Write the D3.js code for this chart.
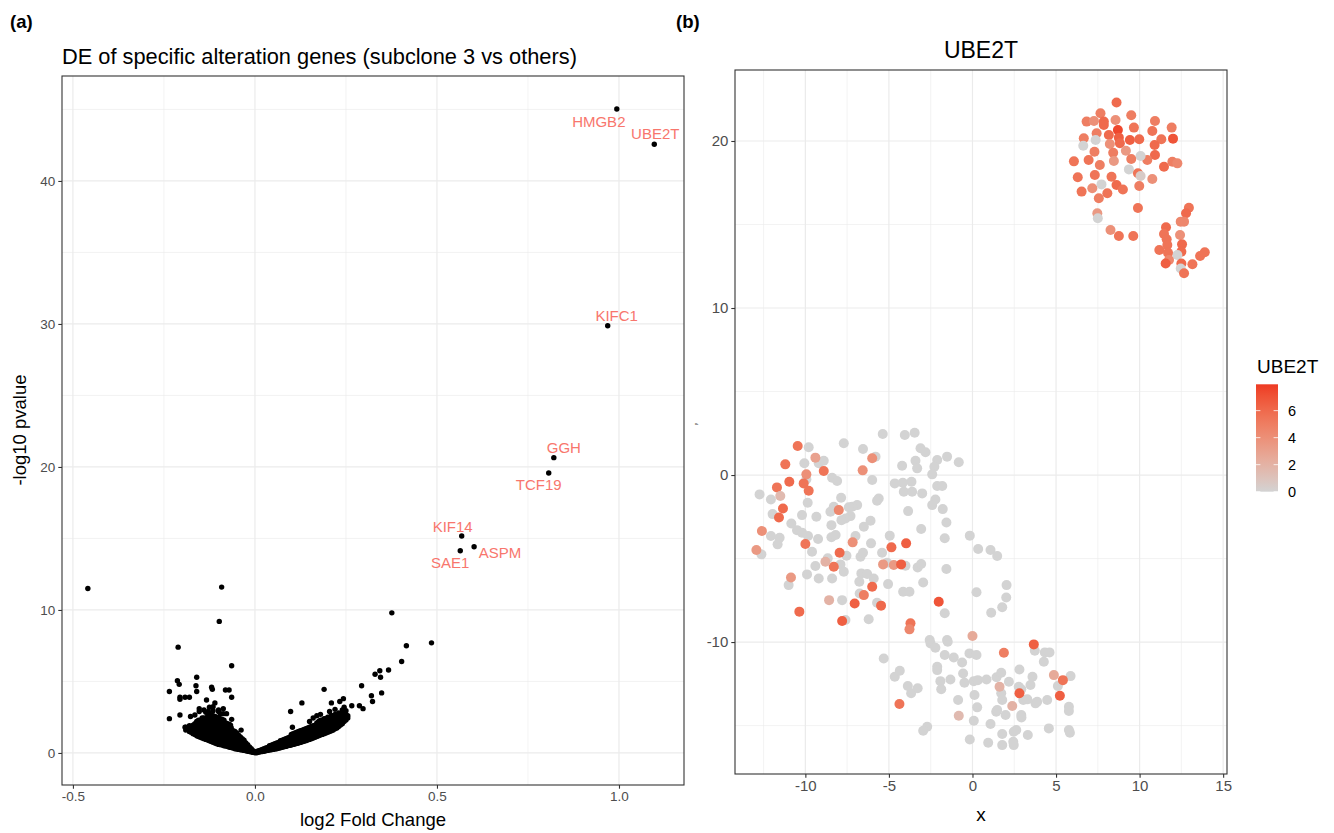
<!DOCTYPE html>
<html><head><meta charset="utf-8">
<script src="https://cdn.jsdelivr.net/npm/d3@7"></script>
<style>
body{margin:0;background:#fff}
text{font-family:"Liberation Sans",Arial,Helvetica,sans-serif}
</style></head>
<body>
<svg id="chart" width="1334" height="833"></svg>
<script>
// ---------------- DATA ----------------
// Panel (a): volcano plot
const labelGenes = ["HMGB2","UBE2T","KIFC1","GGH","TCF19","KIF14","SAE1","ASPM"];
const labelLFC   = [0.994, 1.097, 0.969, 0.821, 0.807, 0.568, 0.564, 0.602];
const labelP     = [45.03, 42.57, 29.88, 20.65, 19.58, 15.17, 14.14, 14.42];

const sparseGenes = [
 [-0.459,11.5],[-0.0915,11.6],[-0.098,9.2],[-0.211,7.4],[-0.064,6.1],
 [0.376,9.8],[0.485,7.7],[0.416,7.5],[0.403,6.4],[0.367,5.8],[0.343,5.75],[0.33,5.5],[0.345,5.3],
 [0.293,4.7],[0.32,4.0],[0.323,3.6],[0.348,4.2],[0.19,4.45],[0.129,3.5],[0.098,2.9],[0.103,1.8],
 [0.243,3.8],[0.233,3.6],[0.21,3.5],[0.266,3.3],[0.287,3.3],[0.297,3.1],
 [-0.235,4.3],[-0.235,2.4],[-0.213,5.05],[-0.208,4.8],[-0.16,5.3],[-0.162,4.7],[-0.16,4.3],
 [-0.119,4.6],[-0.117,4.45],[-0.081,4.4],[-0.071,4.4],[-0.064,3.9],[-0.206,3.9],[-0.192,3.9],
 [-0.18,3.9],[-0.206,3.75],[-0.206,2.65],[-0.192,1.8],[-0.179,1.5],[-0.177,2.55],[-0.153,3.1],
 [-0.133,3.7],[-0.11,3.5],[-0.087,3.1],[-0.078,2.75],[-0.064,2.35],[-0.067,1.95],[-0.038,1.6],
 [0.15,2.2],[0.16,2.45],[0.17,2.6],[0.205,2.9],[0.22,3.05],[0.245,3.2],[0.25,2.95],[0.18,2.7],
 [-0.14,3.0],[-0.125,3.2],[-0.115,2.95],[-0.1,3.0],[-0.135,2.85],[-0.095,2.75],
 [-0.165,2.66],[-0.153,2.9],[-0.128,2.9],[-0.115,3.24],[-0.1,2.9],[-0.087,2.75]
];

// dense V-shaped bulk of genes: [log2FC, [-log10 p values]]
const bulkGenes = [
 [-0.19,[1.6,1.8]],[-0.18,[1.5,1.7,1.9]],[-0.175,[1.45,1.65,1.85]],[-0.17,[1.35,1.55,1.75,1.95]],
 [-0.165,[1.3,1.5,1.7,1.9,2.05]],[-0.16,[1.2,1.4,1.6,1.8,2.0,2.2]],[-0.155,[1.15,1.35,1.55,1.75,1.95,2.15,2.3]],
 [-0.15,[1.1,1.3,1.5,1.7,1.9,2.1,2.3]],[-0.145,[1.05,1.25,1.45,1.65,1.85,2.05,2.25,2.45]],
 [-0.14,[1.0,1.2,1.4,1.6,1.8,2.0,2.2,2.45]],[-0.135,[0.95,1.15,1.35,1.55,1.75,1.95,2.15,2.4]],
 [-0.13,[0.9,1.1,1.3,1.5,1.7,1.9,2.1,2.3,2.55]],[-0.125,[0.85,1.05,1.25,1.45,1.65,1.85,2.05,2.25,2.5,2.7]],
 [-0.12,[0.8,1.0,1.2,1.4,1.6,1.8,2.0,2.2,2.4,2.65]],[-0.115,[0.75,0.95,1.15,1.35,1.55,1.75,1.95,2.15,2.35,2.6]],
 [-0.11,[0.7,0.9,1.1,1.3,1.5,1.7,1.9,2.1,2.3,2.55]],[-0.105,[0.65,0.85,1.05,1.25,1.45,1.65,1.85,2.05,2.25,2.5]],
 [-0.10,[0.6,0.8,1.0,1.2,1.4,1.6,1.8,2.0,2.2,2.45]],[-0.095,[0.58,0.78,0.98,1.18,1.38,1.58,1.78,1.98,2.2,2.4]],
 [-0.09,[0.55,0.75,0.95,1.15,1.35,1.55,1.75,1.95,2.15,2.35]],[-0.085,[0.5,0.7,0.9,1.1,1.3,1.5,1.7,1.9,2.1,2.3]],
 [-0.08,[0.48,0.68,0.88,1.08,1.28,1.48,1.68,1.88,2.1]],[-0.075,[0.45,0.65,0.85,1.05,1.25,1.45,1.65,1.85,2.05]],
 [-0.07,[0.4,0.6,0.8,1.0,1.2,1.4,1.6,1.8,2.0]],[-0.065,[0.38,0.58,0.78,0.98,1.18,1.38,1.58,1.75]],
 [-0.06,[0.35,0.55,0.75,0.95,1.15,1.35,1.55]],[-0.055,[0.3,0.5,0.7,0.9,1.1,1.3,1.5]],
 [-0.05,[0.28,0.48,0.68,0.88,1.08,1.28,1.4]],[-0.045,[0.25,0.45,0.65,0.85,1.05,1.25]],
 [-0.04,[0.22,0.42,0.62,0.82,1.02,1.12]],[-0.035,[0.2,0.4,0.6,0.8,1.0]],[-0.03,[0.18,0.38,0.58,0.78,0.9]],
 [-0.025,[0.15,0.35,0.55,0.7]],[-0.02,[0.12,0.3,0.48,0.58]],[-0.015,[0.1,0.25,0.42]],
 [-0.01,[0.07,0.2,0.3]],[-0.005,[0.04,0.15]],[0.0,[0.02,0.08]],
 [0.005,[0.02,0.1]],[0.01,[0.05,0.15]],[0.015,[0.08,0.2]],[0.02,[0.1,0.25]],[0.025,[0.12,0.3]],
 [0.03,[0.15,0.35]],[0.035,[0.18,0.38]],[0.04,[0.2,0.4,0.5]],[0.045,[0.22,0.42,0.55]],[0.05,[0.25,0.45,0.6]],
 [0.055,[0.28,0.48,0.65]],[0.06,[0.3,0.5,0.7]],[0.065,[0.33,0.53,0.73]],[0.07,[0.36,0.56,0.76,0.85]],
 [0.075,[0.4,0.6,0.8,0.9]],[0.08,[0.43,0.63,0.83,0.95]],[0.085,[0.46,0.66,0.86,1.0]],[0.09,[0.5,0.7,0.9,1.05]],
 [0.095,[0.53,0.73,0.95,1.1]],[0.10,[0.56,0.76,0.96,1.15,1.3]],[0.105,[0.6,0.8,1.0,1.2,1.35]],
 [0.11,[0.63,0.83,1.03,1.23,1.4]],[0.115,[0.67,0.87,1.07,1.27,1.45]],[0.12,[0.7,0.9,1.1,1.3,1.5]],
 [0.125,[0.74,0.94,1.14,1.34,1.55]],[0.13,[0.78,0.98,1.18,1.38,1.6]],[0.135,[0.82,1.02,1.22,1.42,1.65]],
 [0.14,[0.86,1.06,1.26,1.46,1.7]],[0.145,[0.9,1.1,1.3,1.5,1.75]],[0.15,[0.95,1.15,1.35,1.55,1.8]],
 [0.155,[1.0,1.2,1.4,1.6,1.85]],[0.16,[1.05,1.25,1.45,1.65,1.9]],[0.165,[1.1,1.3,1.5,1.7,1.95]],
 [0.17,[1.15,1.35,1.55,1.75,1.95,2.1]],[0.175,[1.2,1.4,1.6,1.8,2.0,2.2]],[0.18,[1.25,1.45,1.65,1.85,2.05,2.3]],
 [0.185,[1.3,1.5,1.7,1.9,2.1,2.3]],[0.19,[1.35,1.55,1.75,1.95,2.15,2.4]],[0.195,[1.4,1.6,1.8,2.0,2.2,2.4]],
 [0.20,[1.45,1.65,1.85,2.05,2.25,2.5]],[0.205,[1.5,1.7,1.9,2.1,2.3,2.5]],[0.21,[1.55,1.75,1.95,2.15,2.35,2.6]],
 [0.215,[1.6,1.8,2.0,2.2,2.4,2.6]],[0.22,[1.7,1.9,2.1,2.3,2.5,2.7]],[0.225,[1.75,1.95,2.15,2.35,2.55]],
 [0.23,[1.85,2.05,2.25,2.45,2.65,2.8]],[0.235,[1.95,2.15,2.35,2.55,2.7]],[0.24,[2.05,2.25,2.45,2.65,2.85,3.0]],
 [0.245,[2.2,2.4,2.6,2.8]],[0.25,[2.3,2.5,2.7]],[0.255,[2.45,2.6]]
];

const volcanoXTicks = [-0.5, 0.0, 0.5, 1.0];
const volcanoYTicks = [0, 10, 20, 30, 40];

// Panel (b): embedding coloured by UBE2T: [x, y, expression]
const cellsTop = [
 [8.62,22.3,6],[7.66,21.66,5],[6.83,21.16,5],[7.27,21.2,4],[7.86,21.16,6],[7.86,20.96,6],[8.56,21.26,4],
 [9.5,21.54,5],[10.92,21.2,5],[9.66,20.8,5.5],[11.92,20.8,5],[10.76,20.6,5.5],[8.7,20.66,7.5],[8.16,20.36,6],
 [7.43,20.46,5],[6.66,20.16,5],[7.37,20.06,0],[6.63,19.72,0],[8.76,20.2,6.5],[8.82,19.86,6],[8.22,19.82,4],
 [9.42,20.06,6.5],[9.98,20.1,6],[11.3,20.1,5.5],[12.0,20.14,7],[10.9,19.76,6],[10.92,19.16,6],[10.46,18.86,5],
 [10.06,19.1,0],[9.18,19.42,3.5],[9.5,18.92,5],[8.42,19.3,5],[7.3,19.36,5],[8.46,18.8,3.5],[7.62,18.56,5],
 [6.95,18.86,5.5],[6.07,18.78,5.5],[7.32,17.96,5.5],[6.3,17.83,5.5],[8.32,17.86,5.5],[9.36,18.3,0],
 [9.9,18.07,5.5],[10.06,17.9,0.5],[10.76,17.72,4],[11.46,18.46,6],[11.96,18.76,5],[12.26,18.66,4.5],
 [7.72,17.4,0],[7.17,17.17,4],[6.53,16.97,5.5],[8.62,17.37,6],[9.0,17.1,5.5],[9.98,17.3,5],[8.07,16.87,5.5],
 [7.56,16.57,5],[9.9,15.99,5.5],[7.47,15.67,3.5],[7.5,15.37,0],[8.26,14.67,4],[8.76,14.31,5.5],[9.62,14.31,5.5],
 [12.95,16.0,5.5],[12.78,15.67,6],[12.66,15.17,4.5],[12.46,15.17,4.5],[11.58,14.83,6],[11.46,14.43,5.5],
 [11.62,14.11,5.5],[12.42,14.37,4],[12.54,13.81,6],[12.5,13.37,6],[12.26,13.17,0],[11.66,13.77,5.5],
 [11.18,13.47,5.5],[11.7,13.31,5.5],[11.76,12.87,4.5],[11.56,12.67,6.5],[12.5,12.67,6],[12.46,12.37,0],
 [12.66,12.08,5.5],[13.16,12.62,5.5],[13.62,13.11,5.5],[13.9,13.34,5.5]
];
const cellsLowGrey = [
 [-9.8,1.66],[-7.7,1.9],[-5.37,2.46],[-4.05,2.4],[-3.46,2.53],[-6.55,1.56],[-5.8,1.1],[-10.06,0.7],[-9.2,0.7],
 [-8.9,0.86],[-3.11,1.6],[-2.81,1.36],[-1.52,1.1],[-0.82,0.76],[-2.11,0.9],[-3.41,0.86],[-4.21,0.56],[-3.31,0.4],
 [-2.28,0.5],[-2.41,0.04],[-8.4,-0.16],[-8.1,-0.36],[-9.94,-0.26],[-6.0,-0.3],[-4.65,-0.5],[-4.17,-0.46],
 [-3.65,-0.4],[-4.11,-1.0],[-3.61,-1.0],[-3.01,-1.1],[-2.11,-0.66],[-1.81,-0.66],[-12.74,-1.16],[-12.06,-1.46],
 [-9.86,-1.66],[-7.86,-1.36],[-5.61,-1.4],[-5.71,-1.54],[-6.9,-1.8],[-7.2,-1.9],[-7.4,-1.93],[-8.3,-1.9],
 [-8.5,-2.2],[-11.96,-2.34],[-10.2,-2.4],[-9.34,-2.5],[-7.3,-2.46],[-7.6,-2.6],[-7.84,-2.7],[-3.85,-2.16],
 [-2.22,-1.46],[-2.41,-1.8],[-1.78,-2.04],[-1.56,-2.84],[-8.44,-3.0],[-6.1,-2.74],[-6.5,-3.1],[-3.07,-3.23],
 [-10.84,-2.9],[-10.5,-3.3],[-10.2,-3.45],[-12.06,-3.65],[-11.54,-3.75],[-11.66,-4.15],[-9.84,-3.65],
 [-9.24,-3.83],[-8.44,-3.73],[-8.19,-3.59],[-7.0,-3.65],[-6.07,-4.09],[-4.95,-3.63],[-1.66,-3.79],[-0.16,-3.63],
 [-12.63,-4.75],[-9.6,-4.59],[-7.54,-4.83],[-8.66,-4.99],[-6.7,-4.89],[-6.55,-4.65],[-5.41,-4.65],[-5.11,-5.25],
 [-4.01,-5.43],[-3.28,-5.53],[-3.07,-5.33],[-1.56,-5.63],[0.34,-4.43],[1.08,-4.49],[1.48,-4.85],[-9.4,-5.45],
 [-7.9,-5.35],[-7.7,-5.79],[-9.9,-5.95],[-9.2,-6.19],[-8.4,-6.19],[-6.65,-5.89],[-6.3,-5.93],[-5.91,-6.19],
 [-6.77,-6.39],[-5.05,-6.53],[-2.95,-6.43],[-11.0,-6.59],[-4.15,-6.99],[-3.77,-6.99],[-6.75,-7.09],[-7.8,-7.49],
 [-5.71,-7.65],[0.24,-7.02],[2.04,-6.59],[2.02,-7.33],[1.78,-7.92],[1.12,-8.25],[-1.66,-8.28],[-7.6,-8.68],
 [-6.21,-8.64],[-2.56,-9.88],[-1.52,-9.88],
 [-2.51,-10.08],[-2.22,-10.34],[-1.48,-9.98],[-5.31,-10.98],[-1.66,-10.78],[-1.12,-10.92],[-0.62,-11.22],
 [-0.18,-10.68],[0.24,-10.78],[3.73,-10.52],[4.33,-10.62],[4.61,-10.62],[4.27,-11.18],[-2.11,-11.48],
 [-2.11,-11.68],[-4.65,-12.08],[-4.35,-11.72],[-3.87,-12.63],[-3.67,-13.07],[-3.28,-12.77],[-1.92,-12.34],
 [-1.32,-12.24],[-1.87,-12.83],[-0.56,-11.88],[-0.48,-12.44],[0.08,-12.34],[0.32,-12.28],[0.84,-12.24],
 [0.12,-13.17],[0.28,-13.91],[-0.86,-13.47],[0.08,-14.71],[1.08,-14.91],[1.42,-14.17],[1.48,-14.07],
 [1.98,-14.37],[1.44,-12.11],[1.72,-11.84],[2.18,-12.38],[1.72,-13.07],[1.78,-13.47],[2.81,-11.64],
 [2.77,-12.68],[2.92,-12.83],[3.04,-13.47],[3.28,-13.43],[3.47,-12.57],[3.59,-12.08],[2.92,-14.37],
 [2.93,-14.51],[3.77,-13.67],[3.87,-13.57],[4.47,-13.47],[5.11,-12.63],[5.87,-12.04],[5.77,-13.87],
 [5.77,-14.13],[5.77,-15.27],[5.83,-15.43],[4.57,-15.17],[3.31,-15.57],[2.62,-15.27],[2.47,-15.37],
 [2.44,-15.97],[2.47,-16.17],[1.78,-15.51],[1.78,-16.17],[0.94,-16.03],[-0.16,-15.83],[-2.71,-15.07],[-2.95,-15.31]
];
const cellsLowExpr = [
 [-10.46,1.74,5.5],[-9.4,1.04,3],[-11.2,0.64,5.5],[-8.9,0.24,5.5],[-9.94,0.04,4],[-10.96,-0.4,6],[-10.1,-0.5,5.5],
 [-9.8,-0.94,5.5],[-11.7,-0.74,5.5],[-11.5,-1.26,1.5],[-11.34,-2.0,6],[-11.58,-2.54,6],[-12.6,-3.35,4],
 [-12.93,-4.49,3.5],[-8.0,-2.1,4.5],[-6.57,0.28,4],[-6.0,1.0,4],[-10.0,-4.13,5.5],[-7.95,-4.65,6],[-7.17,-4.03,4],
 [-8.3,-5.49,5.5],[-8.8,-5.19,2],[-4.85,-4.33,6],[-3.97,-4.09,6.5],[-5.35,-5.35,3.5],[-4.71,-5.39,3.5],
 [-4.27,-5.35,6.5],[-10.86,-6.13,3.5],[-6.0,-6.69,6],[-6.5,-7.19,5],[-8.58,-7.49,2],[-7.05,-7.69,6.5],
 [-5.47,-7.82,6],[-2.02,-7.59,7],[-10.36,-8.18,6],[-7.8,-8.74,6.5],[-3.71,-8.88,5.5],[-3.77,-9.24,4.5],
 [0.0,-9.64,2.5],[1.88,-10.64,5],[3.67,-10.14,6.5],[-4.37,-13.71,5.5],[-0.82,-14.41,1.5],[1.62,-12.68,2],
 [2.38,-13.83,2],[2.81,-13.07,6.5],[4.87,-11.98,2.5],[5.41,-12.28,5.5],[5.23,-13.22,6.5]
];
const embXTicks = [-10, -5, 0, 5, 10, 15];
const embYTicks = [-10, 0, 10, 20];
const exprMax = 7.95;
const legendTicks = [0, 2, 4, 6];

// ---------------- DRAWING ----------------
const svg = d3.select("#chart");
const GRID = "#EBEBEB", BORDER = "#333333", TICKTXT = "#4D4D4D";

function panel(g, x, y, xMaj, xMin, yMaj, yMin){
  const [x0,x1] = x.range(), [y0,y1] = y.range();
  g.append("rect").attr("x",x0).attr("y",y1).attr("width",x1-x0).attr("height",y0-y1).attr("fill","#fff");
  const grid = g.append("g");
  xMin.forEach(v=>grid.append("line").attr("x1",x(v)).attr("x2",x(v)).attr("y1",y1).attr("y2",y0).attr("stroke",GRID).attr("stroke-width",0.6));
  yMin.forEach(v=>grid.append("line").attr("y1",y(v)).attr("y2",y(v)).attr("x1",x0).attr("x2",x1).attr("stroke",GRID).attr("stroke-width",0.6));
  xMaj.forEach(v=>grid.append("line").attr("x1",x(v)).attr("x2",x(v)).attr("y1",y1).attr("y2",y0).attr("stroke",GRID).attr("stroke-width",1.2));
  yMaj.forEach(v=>grid.append("line").attr("y1",y(v)).attr("y2",y(v)).attr("x1",x0).attr("x2",x1).attr("stroke",GRID).attr("stroke-width",1.2));
}
function borderAxes(g, x, y, xTicks, yTicks, fmt, fs){
  const [x0,x1] = x.range(), [y0,y1] = y.range();
  g.append("rect").attr("x",x0).attr("y",y1).attr("width",x1-x0).attr("height",y0-y1)
    .attr("fill","none").attr("stroke",BORDER).attr("stroke-width",1.1);
  const ax = g.append("g").attr("transform",`translate(0,${y0})`)
    .call(d3.axisBottom(x).tickValues(xTicks).tickFormat(fmt).tickSize(3.7).tickPadding(3));
  const ay = g.append("g").attr("transform",`translate(${x0},0)`)
    .call(d3.axisLeft(y).tickValues(yTicks).tickFormat(d=>String(d)).tickSize(3.7).tickPadding(3));
  [ax,ay].forEach(a=>{
    a.select(".domain").remove();
    a.selectAll(".tick line").attr("stroke",BORDER).attr("stroke-width",1.1);
    a.selectAll(".tick text").attr("fill",TICKTXT).attr("font-size",fs)
      .attr("font-family",'"Liberation Sans",Arial,sans-serif');
  });
}

// ----- Panel (a)
const xa = d3.scaleLinear().domain([-0.530, 1.1786]).range([62, 684]);
const ya = d3.scaleLinear().domain([-2.24, 47.34]).range([785, 76]);
const ga = svg.append("g");
panel(ga, xa, ya, volcanoXTicks, [-0.25,0.25,0.75], volcanoYTicks, [5,15,25,35,45]);
svg.append("clipPath").attr("id","clipA").append("rect").attr("x",62).attr("y",76).attr("width",622).attr("height",709);
const pa = ga.append("g").attr("clip-path","url(#clipA)");
const bulkPts = [];
bulkGenes.forEach(([lfc, ps]) => ps.forEach(p => bulkPts.push([lfc, p])));
pa.selectAll("circle.bulk").data(bulkPts).join("circle").attr("class","bulk")
  .attr("cx",d=>xa(d[0])).attr("cy",d=>ya(d[1])).attr("r",2.7).attr("fill","#000");
pa.selectAll("circle.sparse").data(sparseGenes).join("circle").attr("class","sparse")
  .attr("cx",d=>xa(d[0])).attr("cy",d=>ya(d[1])).attr("r",2.7).attr("fill","#000");
const labData = labelGenes.map((g,i)=>({g, x:labelLFC[i], y:labelP[i]}));
pa.selectAll("circle.lab").data(labData).join("circle").attr("class","lab")
  .attr("cx",d=>xa(d.x)).attr("cy",d=>ya(d.y)).attr("r",2.7).attr("fill","#000");
// label placement offsets (pixels), as ggrepel placed them
const labelOffsets = {HMGB2:[-18,12],UBE2T:[1,-11],KIFC1:[9,-10],GGH:[10,-10],TCF19:[-10,12],
                      KIF14:[-9,-10],SAE1:[-10,12],ASPM:[26,6]};
ga.selectAll("text.lab").data(labData).join("text").attr("class","lab")
  .attr("x",d=>xa(d.x)+labelOffsets[d.g][0]).attr("y",d=>ya(d.y)+labelOffsets[d.g][1])
  .attr("text-anchor","middle").attr("dominant-baseline","central")
  .attr("fill","#F8766D").attr("font-size",15).text(d=>d.g);
borderAxes(ga, xa, ya, volcanoXTicks, volcanoYTicks, d=>d.toFixed(1), 13.5);
svg.append("text").attr("x",62).attr("y",64).attr("font-size",21.8).attr("fill","#000")
  .text("DE of specific alteration genes (subclone 3 vs others)");
svg.append("text").attr("x",373).attr("y",826).attr("text-anchor","middle").attr("font-size",18.5)
  .text("log2 Fold Change");
svg.append("text").attr("transform","translate(26,430) rotate(-90)").attr("text-anchor","middle")
  .attr("font-size",18.5).text("-log10 pvalue");

// ----- Panel (b)
const xb = d3.scaleLinear().domain([-14.21, 15.23]).range([735, 1227]);
const yb = d3.scaleLinear().domain([-17.9, 24.25]).range([774, 70]);
const gb = svg.append("g");
panel(gb, xb, yb, embXTicks, [-12.5,-7.5,-2.5,2.5,7.5,12.5], embYTicks, [-15,-5,5,15]);
svg.append("clipPath").attr("id","clipB").append("rect").attr("x",735).attr("y",70).attr("width",492).attr("height",704);
const col = d3.scaleLinear().domain([0, exprMax]).range(["#D3D3D3","#EE3A23"]).interpolate(d3.interpolateLab);
const pb = gb.append("g").attr("clip-path","url(#clipB)");
const cells = cellsTop.concat(cellsLowGrey.map(d=>[d[0],d[1],0]), cellsLowExpr);
pb.selectAll("circle").data(cells).join("circle")
  .attr("cx",d=>xb(d[0])).attr("cy",d=>yb(d[1])).attr("r",5).attr("fill",d=>col(d[2]));
borderAxes(gb, xb, yb, embXTicks, embYTicks, d=>String(d), 15);
svg.append("text").attr("x",981).attr("y",58).attr("text-anchor","middle").attr("font-size",23).text("UBE2T");
svg.append("text").attr("x",981).attr("y",821).attr("text-anchor","middle").attr("font-size",19).text("x");
svg.append("text").attr("transform","translate(697,424) rotate(-90)").attr("text-anchor","middle")
  .attr("font-size",4).text("y");

// ----- Legend
const ly = d3.scaleLinear().domain([0, exprMax]).range([491.7, 384.3]);
const defs = svg.append("defs");
const grad = defs.append("linearGradient").attr("id","gradB").attr("x1",0).attr("y1",1).attr("x2",0).attr("y2",0);
d3.range(0, 11).forEach(i=>grad.append("stop").attr("offset",i/10).attr("stop-color",col(exprMax*i/10)));
svg.append("text").attr("x",1257).attr("y",373).attr("font-size",19).text("UBE2T");
svg.append("rect").attr("x",1256).attr("y",ly(exprMax)).attr("width",22).attr("height",ly(0)-ly(exprMax)).attr("fill","url(#gradB)");
legendTicks.forEach(v=>{
  [[1256,1260.4],[1273.6,1278]].forEach(([a,b])=>svg.append("line").attr("x1",a).attr("x2",b)
    .attr("y1",ly(v)).attr("y2",ly(v)).attr("stroke","#fff").attr("stroke-width",0.8));
  svg.append("text").attr("x",1288).attr("y",ly(v)).attr("dominant-baseline","central")
    .attr("font-size",14.5).text(String(v));
});

// panel tags
svg.append("text").attr("x",10).attr("y",28).attr("font-size",18.5).attr("font-weight","bold").text("(a)");
svg.append("text").attr("x",676).attr("y",28).attr("font-size",18.5).attr("font-weight","bold").text("(b)");
</script>
</body></html>
